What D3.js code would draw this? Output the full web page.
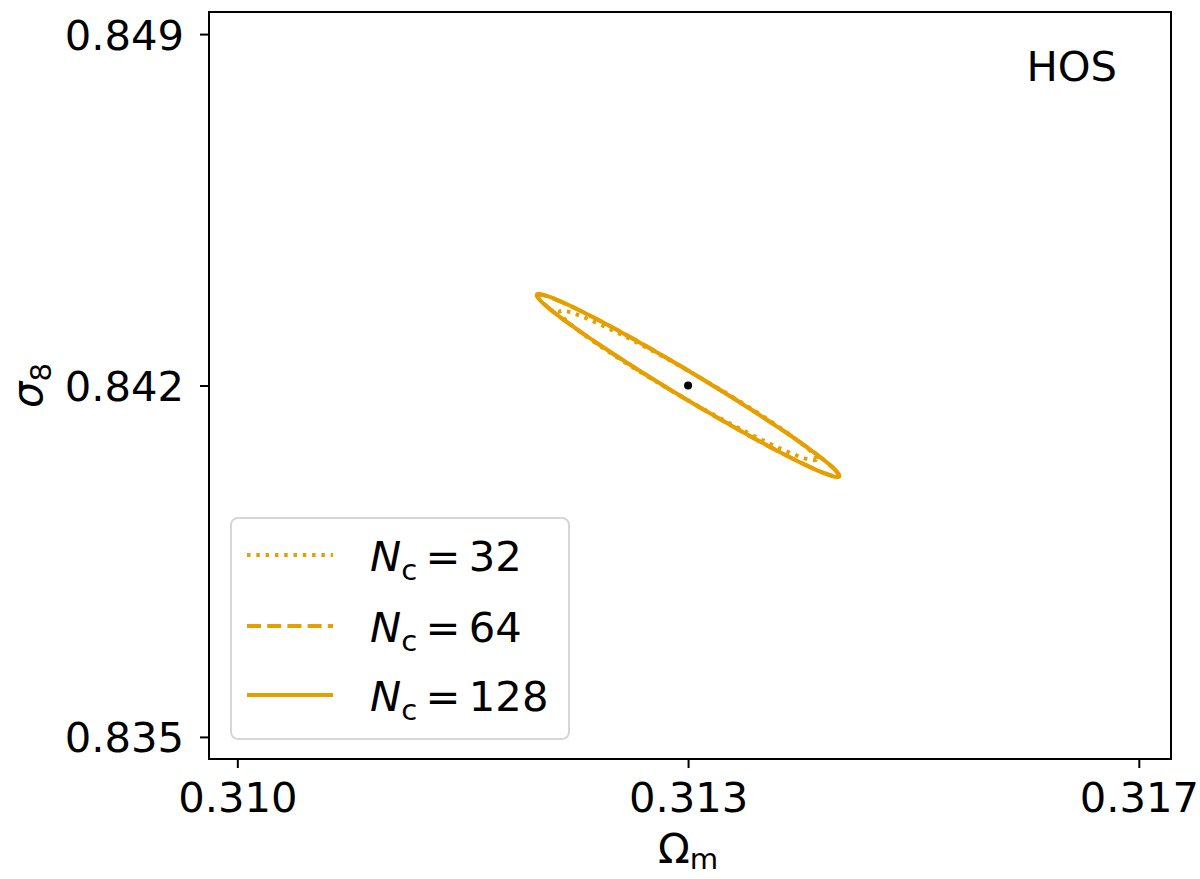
<!DOCTYPE html>
<html>
<head>
<meta charset="utf-8">
<script src="https://cdn.jsdelivr.net/npm/d3@7"></script>
<style>
  body { margin: 0; background: #fff; }
  svg { display: block; font-family: "DejaVu Sans", sans-serif; }
</style>
</head>
<body>
<div id="chart"></div>
<script>
// fiducial point
const fiducial = { om: 0.3133, s8: 0.842 };

// contours, one per number of cells
const ncValues = [32, 64, 128];
const sigmaOm = [0.000657, 0.000769, 0.000775];
const sigmaS8 = [0.000983, 0.001192, 0.001203];
const corr = [-0.980, -0.9861, -0.9867];
const dashes = ["3.5,5.8", "14,6.2", null];

// ticks
const xTickValues = [0.3098, 0.3133, 0.3168];
const xTickLabels = ["0.310", "0.313", "0.317"];
const yTickValues = [0.835, 0.842, 0.849];
const yTickLabels = ["0.835", "0.842", "0.849"];

const W = 1200, H = 879,
  pd = { left: 209, right: 29, top: 12, bottom: 120 },
  fs = 41.7,
  col = "#e69f00",
  lw = 4;

const x = d3.scaleLinear().domain([0.30958, 0.31705]).range([pd.left, W - pd.right]);
const y = d3.scaleLinear().domain([0.83456, 0.84944]).range([H - pd.bottom, pd.top]);

const svg = d3.select("#chart").append("svg").attr("width", W).attr("height", H);

// contour level for 68% in 2D
const k = Math.sqrt(2.30);
const contour = (i) => {
  const pts = [];
  for (let j = 0; j < 240; j++) {
    const t = (j / 240) * 2 * Math.PI;
    const dx = k * sigmaOm[i] * Math.cos(t);
    const dy = k * sigmaS8[i] * (corr[i] * Math.cos(t) + Math.sqrt(1 - corr[i] * corr[i]) * Math.sin(t));
    pts.push([fiducial.om + dx, fiducial.s8 + dy]);
  }
  return pts;
};
const line = d3.line().x((d) => x(d[0])).y((d) => y(d[1])).curve(d3.curveLinearClosed);

ncValues.forEach((n, i) => {
  svg.append("path")
    .attr("d", line(contour(i)))
    .attr("fill", "none")
    .attr("stroke", col)
    .attr("stroke-width", lw)
    .attr("stroke-dasharray", dashes[i]);
});

svg.append("circle")
  .attr("cx", x(fiducial.om))
  .attr("cy", y(fiducial.s8))
  .attr("r", 4)
  .attr("fill", "#000");

/*---------axes-----------*/
const xAxis = svg.append("g")
  .attr("transform", "translate(0," + (H - pd.bottom) + ")")
  .call(d3.axisBottom(x).tickValues(xTickValues).tickFormat((d, i) => xTickLabels[i]).tickSize(9).tickPadding(14).tickSizeOuter(0));
const yAxis = svg.append("g")
  .attr("transform", "translate(" + pd.left + ",0)")
  .call(d3.axisLeft(y).tickValues(yTickValues).tickFormat((d, i) => yTickLabels[i]).tickSize(9).tickPadding(16).tickSizeOuter(0));
[xAxis, yAxis].forEach((g) => {
  g.select(".domain").remove();
  g.selectAll(".tick line").attr("stroke", "#000").attr("stroke-width", 2);
  g.selectAll(".tick text").attr("font-size", fs).attr("fill", "#000").attr("font-family", "DejaVu Sans");
});
yAxis.selectAll(".tick text").attr("dy", "0.36em");

// frame
svg.append("rect")
  .attr("x", pd.left).attr("y", pd.top)
  .attr("width", W - pd.left - pd.right).attr("height", H - pd.top - pd.bottom)
  .attr("fill", "none").attr("stroke", "#000").attr("stroke-width", 2);

// axis labels
const xl = svg.append("text")
  .attr("x", x(fiducial.om)).attr("y", 863)
  .attr("text-anchor", "middle").attr("font-size", fs);
xl.append("tspan").text("Ω");
xl.append("tspan").attr("font-size", fs * 0.7).attr("dy", 6).text("m");

const yl = svg.append("text")
  .attr("transform", "translate(42," + ((pd.top + H - pd.bottom) / 2) + ") rotate(-90)")
  .attr("text-anchor", "middle").attr("font-size", fs);
yl.append("tspan").attr("font-style", "italic").text("σ");
yl.append("tspan").attr("font-size", fs * 0.7).attr("dy", 9).text("8");

svg.append("text")
  .attr("x", 1117).attr("y", 81)
  .attr("text-anchor", "end").attr("font-size", fs)
  .text("HOS");

/*---------legend-----------*/
const leg = svg.append("g");
leg.append("rect")
  .attr("x", 231).attr("y", 518).attr("width", 338).attr("height", 221)
  .attr("rx", 7).attr("fill", "#fff").attr("fill-opacity", 0.8)
  .attr("stroke", "#d6d6d6").attr("stroke-width", 2);
const rowY = [555, 626, 695];
ncValues.forEach((n, i) => {
  leg.append("line")
    .attr("x1", 247).attr("x2", 333).attr("y1", rowY[i]).attr("y2", rowY[i])
    .attr("stroke", col).attr("stroke-width", lw)
    .attr("stroke-dasharray", dashes[i]);
  const t = leg.append("text")
    .attr("x", 370).attr("y", rowY[i] + 16).attr("font-size", fs);
  t.append("tspan").attr("font-style", "italic").text("N");
  t.append("tspan").attr("font-size", fs * 0.7).attr("dy", 9).text("c");
  t.append("tspan").attr("dy", -9).text("\u2009=\u2009" + n);
});
</script>
</body>
</html>
